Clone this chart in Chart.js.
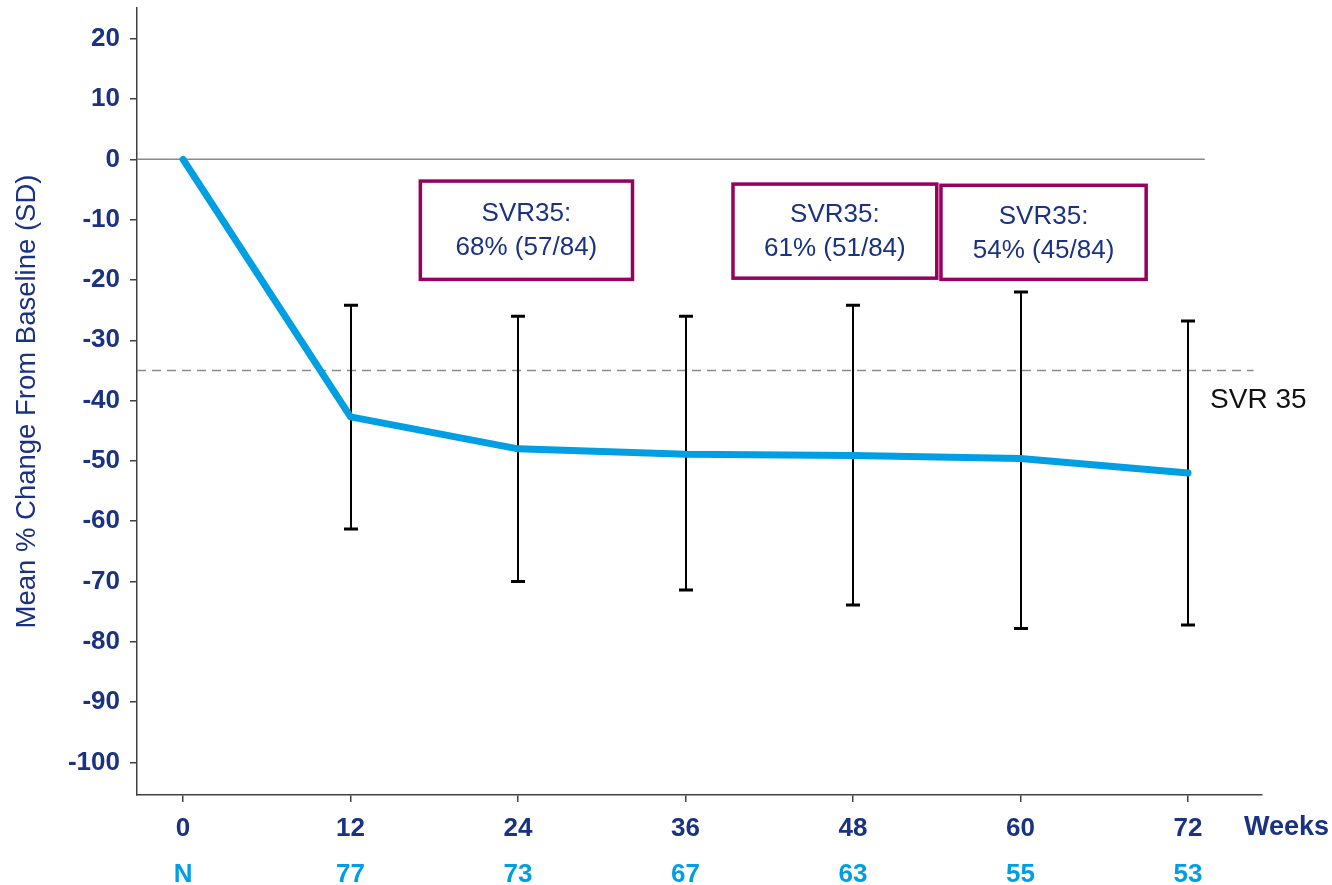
<!DOCTYPE html>
<html>
<head>
<meta charset="utf-8">
<script src="https://cdn.jsdelivr.net/npm/chart.js@4/dist/chart.umd.min.js"></script>
<style>
  html, body { margin: 0; padding: 0; background: #ffffff; }
  #wrap { width: 1332px; height: 885px; position: relative; }
</style>
</head>
<body>
<div id="wrap"><canvas id="c" width="1332" height="885"></canvas></div>
<script>
// ---- data ----
const weeks = [0, 12, 24, 36, 48, 60, 72];
const meanChange = [0, -42.7, -48.0, -48.9, -49.1, -49.6, -52.0];
const sdUpper = [null, -24.2, -26.0, -26.0, -24.2, -22.0, -26.8];
const sdLower = [null, -61.3, -70.0, -71.4, -73.9, -77.8, -77.2];
const nPatients = ['N', '77', '73', '67', '63', '55', '53'];
const yTickValues = [20, 10, 0, -10, -20, -30, -40, -50, -60, -70, -80, -90, -100];
const svrThreshold = -35;
const svrThresholdLabel = 'SVR 35';
const svrBoxTexts = [
  ['SVR35:', '68% (57/84)'],
  ['SVR35:', '61% (51/84)'],
  ['SVR35:', '54% (45/84)']
];
const xAxisLabel = 'Weeks';
const yAxisLabel = 'Mean % Change From Baseline (SD)';

// ---- styles ----
const NAVY = '#1a3282';
const BLUE = '#009fe3';
const PURPLE = '#97005e';
const AXIS = '#404040';
const FONT = "'Liberation Sans', Arial, sans-serif";

// box geometry in data units (week span, value span)
const boxGeom = [
  { x0: 17.0, x1: 32.2, y0: -3.6, y1: -19.9 },
  { x0: 39.4, x1: 54.0, y0: -4.1, y1: -19.7 },
  { x0: 54.3, x1: 69.0, y0: -4.3, y1: -19.9 }
];

const decorPlugin = {
  id: 'decor',
  beforeDatasetsDraw(chart) {
    const ctx = chart.ctx;
    const xs = chart.scales.x, ys = chart.scales.y;
    const area = chart.chartArea;
    ctx.save();
    // zero reference line
    ctx.strokeStyle = '#8a8a8a';
    ctx.lineWidth = 1.5;
    ctx.beginPath();
    ctx.moveTo(area.left, ys.getPixelForValue(0));
    ctx.lineTo(xs.getPixelForValue(73.2), ys.getPixelForValue(0));
    ctx.stroke();
    // SVR35 threshold dashed
    ctx.setLineDash([9, 6]);
    ctx.beginPath();
    ctx.moveTo(area.left, ys.getPixelForValue(svrThreshold));
    ctx.lineTo(xs.getPixelForValue(76.7), ys.getPixelForValue(svrThreshold));
    ctx.stroke();
    ctx.setLineDash([]);
    // error bars
    ctx.strokeStyle = '#000000';
    for (let i = 0; i < weeks.length; i++) {
      if (sdUpper[i] === null || sdLower[i] === null) continue;
      const px = Math.round(xs.getPixelForValue(weeks[i]));
      const pTop = ys.getPixelForValue(sdUpper[i]);
      const pBot = ys.getPixelForValue(sdLower[i]);
      ctx.lineWidth = 2;
      ctx.beginPath();
      ctx.moveTo(px, pTop);
      ctx.lineTo(px, pBot);
      ctx.stroke();
      ctx.lineWidth = 3;
      ctx.beginPath();
      ctx.moveTo(px - 7, pTop); ctx.lineTo(px + 7, pTop);
      ctx.moveTo(px - 7, pBot); ctx.lineTo(px + 7, pBot);
      ctx.stroke();
    }
    ctx.restore();
  },
  afterDatasetsDraw(chart) {
    const ctx = chart.ctx;
    const xs = chart.scales.x, ys = chart.scales.y;
    ctx.save();
    // SVR boxes
    for (let i = 0; i < boxGeom.length; i++) {
      const g = boxGeom[i];
      const l = xs.getPixelForValue(g.x0), r = xs.getPixelForValue(g.x1);
      const t = ys.getPixelForValue(g.y0), b = ys.getPixelForValue(g.y1);
      ctx.fillStyle = '#ffffff';
      ctx.fillRect(l, t, r - l, b - t);
      ctx.strokeStyle = PURPLE;
      ctx.lineWidth = 3.5;
      ctx.strokeRect(l, t, r - l, b - t);
      ctx.fillStyle = NAVY;
      ctx.font = '26px ' + FONT;
      ctx.textAlign = 'center';
      ctx.textBaseline = 'middle';
      const cx = (l + r) / 2, cy = (t + b) / 2;
      ctx.fillText(svrBoxTexts[i][0], cx, cy - 16);
      ctx.fillText(svrBoxTexts[i][1], cx, cy + 18);
    }
    // threshold label
    ctx.fillStyle = '#111111';
    ctx.font = '28px ' + FONT;
    ctx.textAlign = 'left';
    ctx.textBaseline = 'middle';
    ctx.fillText(svrThresholdLabel, xs.getPixelForValue(72) + 22, ys.getPixelForValue(svrThreshold) + 30);
    // Weeks label at the tick row
    ctx.fillStyle = NAVY;
    ctx.font = 'bold 27px ' + FONT;
    ctx.fillText(xAxisLabel, xs.getPixelForValue(72) + 56, chart.chartArea.bottom + 33);
    ctx.restore();
  }
};

const ctx = document.getElementById('c').getContext('2d');
new Chart(ctx, {
  type: 'line',
  data: {
    datasets: [{
      label: 'Mean % change',
      data: weeks.map((w, i) => ({ x: w, y: meanChange[i] })),
      borderColor: BLUE,
      backgroundColor: BLUE,
      borderWidth: 7,
      borderCapStyle: 'round',
      borderJoinStyle: 'round',
      pointRadius: 0,
      pointHoverRadius: 0,
      tension: 0,
      fill: false,
      clip: false
    }]
  },
  options: {
    responsive: false,
    devicePixelRatio: 1,
    animation: false,
    events: [],
    layout: { padding: { top: 8, right: 70, left: 0, bottom: 0 } },
    plugins: { legend: { display: false }, tooltip: { enabled: false } },
    scales: {
      x: {
        type: 'linear',
        position: 'bottom',
        weight: 0,
        min: -3.3,
        max: 77.3,
        afterBuildTicks: (s) => { s.ticks = weeks.map(v => ({ value: v })); },
        afterFit: (s) => { s.height = 54; s.paddingLeft = 0; s.paddingRight = 0; },
        border: { display: true, color: AXIS, width: 1.5 },
        grid: { display: true, drawOnChartArea: false, drawTicks: true, tickLength: 7, color: AXIS, lineWidth: 1.5 },
        ticks: {
          autoSkip: false, maxRotation: 0,
          padding: 11,
          color: NAVY,
          font: { family: FONT, size: 26, weight: 'bold' },
          callback: (v) => String(v)
        }
      },
      x2: {
        type: 'linear',
        position: 'bottom',
        weight: 1,
        min: -3.3,
        max: 77.3,
        afterBuildTicks: (s) => { s.ticks = weeks.map(v => ({ value: v })); },
        afterFit: (s) => { s.height = 36; s.paddingLeft = 0; s.paddingRight = 0; },
        border: { display: false },
        grid: { display: false },
        ticks: {
          autoSkip: false, maxRotation: 0,
          padding: 2,
          color: BLUE,
          font: { family: FONT, size: 26, weight: 'bold' },
          callback: (v) => { const i = weeks.indexOf(v); return i >= 0 ? nPatients[i] : ''; }
        }
      },
      y: {
        type: 'linear',
        min: -105.4,
        max: 25.1,
        afterBuildTicks: (s) => { s.ticks = yTickValues.map(v => ({ value: v })); },
        afterFit: (s) => { s.width = 137; s.paddingTop = 0; s.paddingBottom = 0; },
        border: { display: true, color: AXIS, width: 1.5 },
        grid: { display: true, drawOnChartArea: false, drawTicks: true, tickLength: 7, color: AXIS, lineWidth: 1.5 },
        ticks: {
          padding: 10,
          color: NAVY,
          font: { family: FONT, size: 26, weight: 'bold' },
          callback: (v) => String(v)
        },
        title: {
          display: true,
          text: yAxisLabel,
          color: NAVY,
          font: { family: FONT, size: 27.5, weight: 'normal' },
          padding: { top: 11, bottom: 0 }
        }
      }
    }
  },
  plugins: [decorPlugin]
});
</script>
</body>
</html>
